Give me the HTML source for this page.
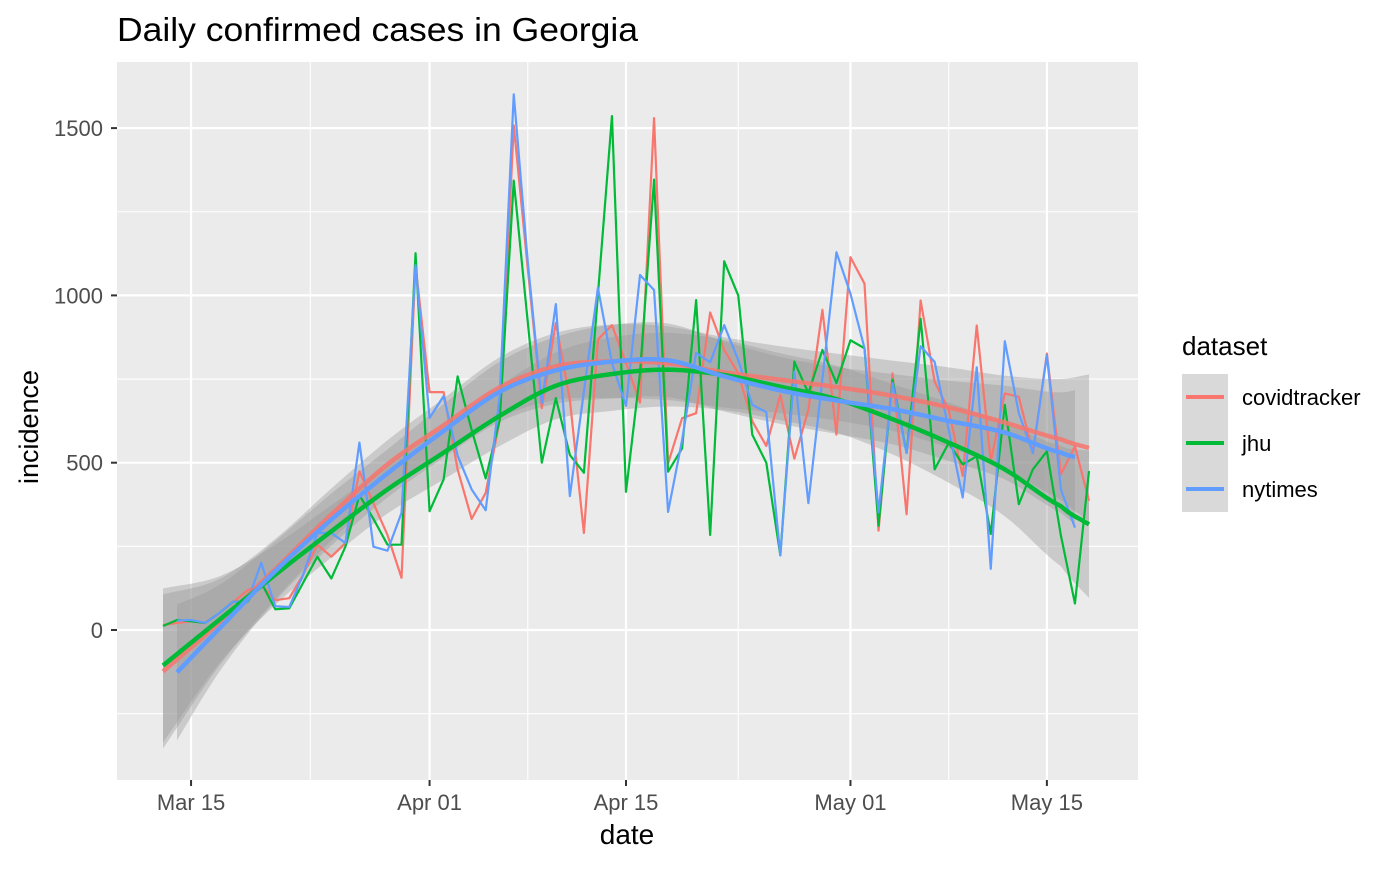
<!DOCTYPE html>
<html><head><meta charset="utf-8"><style>
body{margin:0;background:#fff;font-family:"Liberation Sans",Arial,sans-serif}
svg text{font-family:"Liberation Sans",Arial,sans-serif}
</style></head><body>
<svg id="chart" width="1400" height="866" viewBox="0 0 1400 866" xmlns="http://www.w3.org/2000/svg">
<rect width="1400" height="866" fill="#fff"/>
<text x="117" y="41" font-size="33" textLength="521" lengthAdjust="spacingAndGlyphs" fill="#000">Daily confirmed cases in Georgia</text>
<g id="panel"></g>
<text x="627" y="844" font-size="28" text-anchor="middle">date</text>
<text transform="translate(38,427) rotate(-90)" font-size="27" text-anchor="middle">incidence</text>
<g id="legend"></g>
</svg>
<script>
// ---- data ----
const seriesNames = ["covidtracker","jhu","nytimes"];
const seriesColors = ["#F8766D","#00BA38","#619CFF"];
// daily values starting Mar 13 (day 0)
const covidtracker = [15,21,26,21,50,83,118,136,89,95,166,255,219,260,474,379,284,156,1090,711,711,480,332,410,628,1508,1080,663,918,688,290,868,911,798,680,1530,498,633,648,949,837,767,624,550,703,512,658,957,584,1114,1035,297,767,346,985,742,658,460,910,504,707,697,529,826,465,549,386];
const jhu = [12,30,26,21,50,85,83,142,62,65,142,219,154,249,403,332,255,255,1126,355,450,758,598,453,628,1343,920,500,693,523,470,1003,1536,413,768,1346,473,543,986,284,1102,1000,584,500,223,802,708,837,738,866,842,312,748,529,930,480,559,495,519,287,673,376,480,534,282,79,475];
const nytimes = [null,28,30,21,50,85,83,201,71,69,166,290,290,260,560,249,237,350,1090,634,699,521,420,358,700,1601,1100,678,974,400,713,1023,798,670,1061,1016,353,568,828,800,911,807,673,651,223,772,379,750,1129,1005,842,352,738,529,848,801,599,396,785,183,863,648,529,821,420,306];
// smoothed fits (loess) read at these days
const smoothDays = [0,4,8,12,16,20,24,28,32,36,40,44,48,52,56,60,64,66];
const smoothCovid = [-124,22,182,345,495,612,725,788,803,797,770,748,726,700,665,620,570,544];
const smoothJhu = [-106,30,165,295,420,530,640,730,765,778,762,727,690,630,560,480,370,316];
const smoothNyt = [-170,4,176,330,468,595,712,776,802,806,758,716,686,660,625,590,530,509];
const smoothStart = [0,0,1];
const smoothEnd = [66,66,65];
const bandHalf = [230,130,90,78,72,80,90,100,110,110,105,100,100,105,120,140,180,220];
const yTicks = [0,500,1000,1500];
const yMinor = [-250,250,750,1250];
const xTickDays = [2,19,33,49,63];
const xTickLabels = ["Mar 15","Apr 01","Apr 15","May 01","May 15"];
const xMinorDays = [10.5,26,41,56];

// ---- scales ----
const PX0=117,PX1=1138,PY0=62,PY1=780;
const xs = d => 163 + d*14.03;
const ys = v => 630 - v*0.3346;
const NS="http://www.w3.org/2000/svg";
const panel=document.getElementById('panel');
const chart=document.getElementById('chart');
function mk(tag,attrs,parent){const e=document.createElementNS(NS,tag);for(const k in attrs)e.setAttribute(k,attrs[k]);(parent||panel).appendChild(e);return e;}

let bg=mk('rect',{x:PX0,y:PY0,width:PX1-PX0,height:PY1-PY0,fill:'#EBEBEB'});


yMinor.forEach(v=>{const l=mk('line',{x1:PX0,x2:PX1,y1:ys(v),y2:ys(v),stroke:'#fff','stroke-width':1.1});

});
xMinorDays.forEach(d=>{const l=mk('line',{x1:xs(d),x2:xs(d),y1:PY0,y2:PY1,stroke:'#fff','stroke-width':1.1});

});
yTicks.forEach(v=>{const l=mk('line',{x1:PX0,x2:PX1,y1:ys(v),y2:ys(v),stroke:'#fff','stroke-width':2.2});


const t=mk('line',{x1:PX0-6,x2:PX0,y1:ys(v),y2:ys(v),stroke:'#333','stroke-width':2},chart);


const tx=mk('text',{x:PX0-14,y:ys(v)+8,'font-size':22,fill:'#4D4D4D','text-anchor':'end'},chart);
tx.textContent=v;

});
xTickDays.forEach((d,i)=>{const l=mk('line',{x1:xs(d),x2:xs(d),y1:PY0,y2:PY1,stroke:'#fff','stroke-width':2.2});


const t=mk('line',{x1:xs(d),x2:xs(d),y1:PY1,y2:PY1+6,stroke:'#333','stroke-width':2},chart);


const tx=mk('text',{x:xs(d),y:PY1+30,'font-size':22,fill:'#4D4D4D','text-anchor':'middle'},chart);
tx.textContent=xTickLabels[i];

});

// cubic interpolation with linear-extrapolated end tangents
function interp(arr,d){
  let i=0;while(i<smoothDays.length-2&&d>smoothDays[i+1])i++;
  const x0=smoothDays[i],x1=smoothDays[i+1],t=(d-x0)/(x1-x0);
  const p1=arr[i],p2=arr[i+1];
  const p0=i>0?arr[i-1]:2*p1-p2;
  const p3=i+2<arr.length?arr[i+2]:2*p2-p1;
  const t2=t*t,t3=t2*t;
  return 0.5*((2*p1)+(-p0+p2)*t+(2*p0-5*p1+4*p2-p3)*t2+(-p0+3*p1-3*p2+p3)*t3);
}
const smooths=[smoothCovid,smoothJhu,smoothNyt];
// ribbons
smooths.forEach((s,k)=>{
  let up=[],dn=[];
  for(let d=smoothStart[k];d<=smoothEnd[k]+1e-9;d+=0.5){const m=interp(s,d),h=interp(bandHalf,d);up.push(xs(d)+','+ys(m+h));dn.unshift(xs(d)+','+ys(m-h));}
  const p=mk('polygon',{points:up.concat(dn).join(' '),fill:'#999999','fill-opacity':0.4});
  
  
});
// raw lines
[covidtracker,jhu,nytimes].forEach((arr,k)=>{
  const pts=[];arr.forEach((v,d)=>{if(v!==null)pts.push(xs(d)+','+ys(v));});
  const p=mk('polyline',{points:pts.join(' '),fill:'none',stroke:seriesColors[k],'stroke-width':2.2,'stroke-linejoin':'round'});
  
  
});
// smooth lines
smooths.forEach((s,k)=>{
  const pts=[];for(let d=smoothStart[k];d<=smoothEnd[k]+1e-9;d+=0.5)pts.push(xs(d)+','+ys(interp(s,d)));
  const p=mk('polyline',{points:pts.join(' '),fill:'none',stroke:seriesColors[k],'stroke-width':4.5,'stroke-opacity':k===0?0.85:1});
  
  
});
// legend
const lg=document.getElementById('legend');
const lt=mk('text',{x:1182,y:355,'font-size':26},lg);
lt.textContent='dataset';


seriesNames.forEach((n,k)=>{
  const cy=397+k*46;
  const g=mk('g',{},lg);
  
  
  mk('rect',{x:1182,y:cy-23,width:46,height:46,fill:'#D9D9D9'},g);
  mk('line',{x1:1186,x2:1224,y1:cy,y2:cy,stroke:seriesColors[k],'stroke-width':4},g);
  const t=mk('text',{x:1242,y:cy+8,'font-size':22},g);t.textContent=n;
});
</script>
</body></html>
